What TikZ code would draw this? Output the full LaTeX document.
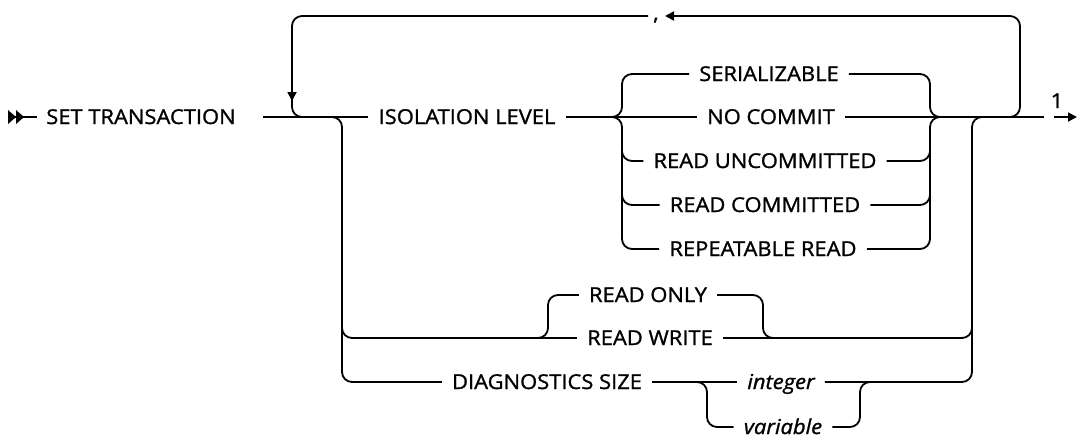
\documentclass[tikz,border=0pt]{standalone}
\usepackage{fontspec}
\setmainfont{Open Sans}[FakeBold=1.2, FakeStretch=1.07]
\usetikzlibrary{arrows.meta}
\tikzset{
  kw/.style={inner xsep=10pt, inner ysep=0pt, text height=14pt, text depth=0pt, font=\fontsize{20.5}{22}\selectfont},
  var/.style={kw, font=\fontsize{20.5}{22}\selectfont\itshape},
  rail/.style={line width=1.8pt, rounded corners=10pt},
  tip/.style={-{Triangle[length=9pt,width=9pt]}}
}
\begin{document}
\begin{tikzpicture}[x=1pt,y=-1pt]
\useasboundingbox (0,0) rectangle (1078,440);
% nodes
\node[kw] (st) at (141,117) {SET TRANSACTION};
\node[kw] (iso) at (467,117) {ISOLATION LEVEL};
\node[kw] (ser) at (769,74) {SERIALIZABLE};
\node[kw] (nc) at (771,117) {NO COMMIT};
\node[kw] (ru) at (765,161) {READ UNCOMMITTED};
\node[kw] (rc) at (765,205) {READ COMMITTED};
\node[kw] (rr) at (763,249) {REPEATABLE READ};
\node[kw] (ro) at (648,295) {READ ONLY};
\node[kw] (rw) at (650,338) {READ WRITE};
\node[kw] (ds) at (547,382) {DIAGNOSTICS SIZE};
\node[var] (int) at (781,382) {integer};
\node[var] (vr) at (783,427) {variable};
\node[kw, inner xsep=5pt] (cm) at (656,13) {,};
\node[kw, inner xsep=0pt] (one) at (1057,101) {1};
% junction coordinates
\coordinate (s0) at (15,117);
\coordinate (s1) at (37,117);
\coordinate (m0) at (263,117);
\coordinate (e0) at (1044,117);
\coordinate (e1) at (1054,117);
\coordinate (e2) at (1077,117);
% start arrows
\fill (8,110) -- (16,117) -- (8,124) -- cycle;
\fill (16,110) -- (24,117) -- (16,124) -- cycle;
\draw[rail] (s0) -- (s1);
% main line
\draw[rail] (m0) -- (iso.west);
\draw[rail] (iso.east) -- (nc.west);
\draw[rail] (nc.east) -- (e0);
\draw[rail,tip] (e1) -- (e2);
% repeat loop
\draw[rail,tip] (995,117) -- (1020,117) -- (1020,16) -- (665,16);
\draw[rail,tip] (cm.west |- 0,16) -- (292,16) -- (292,101);
\draw[rail] (292,98) -- (292,117) -- (315,117);
% isolation level choices
\draw[rail] (605,117) -- (622,117) -- (622,74) -- (ser.west);
\draw[rail] (605,117) -- (622,117) -- (622,249) -- (rr.west);
\draw[rail] (622,150) -- (622,161) -- (ru.west);
\draw[rail] (622,194) -- (622,205) -- (rc.west);
\draw[rail] (ser.east) -- (930,74) -- (930,117) -- (945,117);
\draw[rail] (rr.east) -- (930,249) -- (930,117) -- (945,117);
\draw[rail] (ru.east) -- (930,161) -- (930,150);
\draw[rail] (rc.east) -- (930,205) -- (930,194);
% left branch
\draw[rail] (325,117) -- (342,117) -- (342,382) -- (ds.west);
\draw[rail] (342,325) -- (342,338) -- (rw.west);
% read only / write
\draw[rail] (535,338) -- (548,338) -- (548,295) -- (ro.west);
\draw[rail] (ro.east) -- (763,295) -- (763,338) -- (778,338);
\draw[rail] (rw.east) -- (972,338) -- (972,117) -- (990,117);
% diagnostics
\draw[rail] (ds.east) -- (int.west);
\draw[rail] (695,382) -- (707,382) -- (707,427) -- (vr.west);
\draw[rail] (vr.east) -- (860,427) -- (860,382) -- (875,382);
\draw[rail] (int.east) -- (972,382) -- (972,325);
\end{tikzpicture}
\end{document}
